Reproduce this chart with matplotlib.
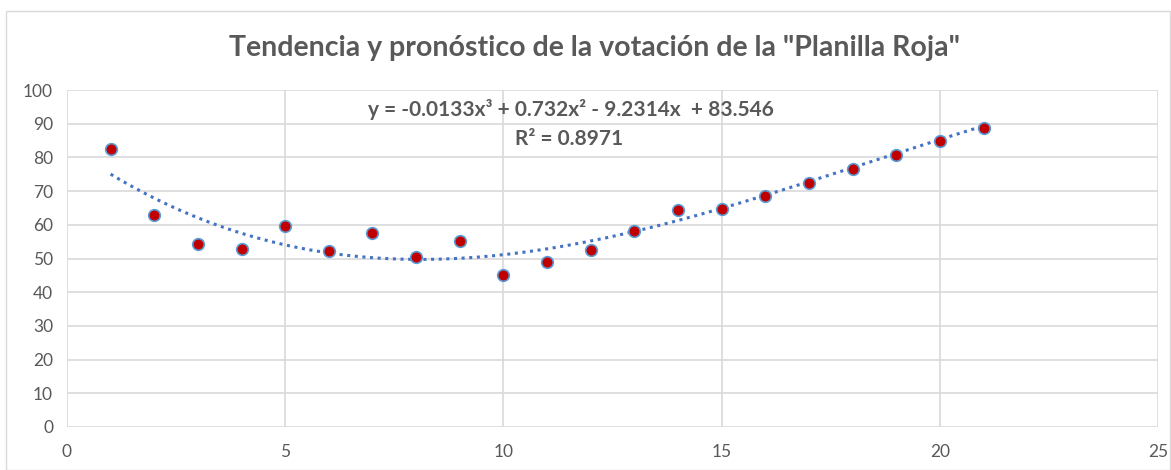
import matplotlib.pyplot as plt
import numpy as np

# ---------- DATA ----------
periodo = [1, 2, 3, 4, 5, 6, 7, 8, 9, 10, 11, 12, 13, 14, 15, 16, 17, 18, 19, 20, 21]
votacion = [82.5, 63.0, 54.3, 52.8, 59.5, 52.3, 57.6, 50.5, 55.2, 45.1, 49.0,
            52.4, 58.1, 64.3, 64.8, 68.6, 72.3, 76.7, 80.6, 85.0, 88.8]

# coefficients shown on the chart (cubic trend)
coef = [-0.0133, 0.732, -9.2314, 83.546]
ecuacion = "y = -0.0133x³ + 0.732x² - 9.2314x  + 83.546"
r2_texto = "R² = 0.8971"
titulo = 'Tendencia y pronóstico de la votación de la "Planilla Roja"'

x_ticks = [0, 5, 10, 15, 20, 25]
y_ticks = [0, 10, 20, 30, 40, 50, 60, 70, 80, 90, 100]

gris = "#595959"
plt.rcParams['font.family'] = ['Lato', 'DejaVu Sans']

# ---------- FIGURE ----------
fig = plt.figure(figsize=(11.71, 4.70), dpi=100)
ax = fig.add_axes([0.0572, 0.0915, 0.9318, 0.717])

# outer chart border
fig.patches.append(plt.Rectangle((0.005, 0.0), 0.994, 0.977, transform=fig.transFigure,
                                 fill=False, edgecolor="#d9d9d9", linewidth=1))

# trend line
xs = np.linspace(periodo[0], periodo[-1], 200)
ax.plot(xs, np.polyval(coef, xs), linestyle=(0, (1, 1.5)), color="#4472C4",
        linewidth=2.2, zorder=2)

# points
ax.scatter(periodo, votacion, s=70, color="#C00000", edgecolors="#5B9BD5",
           linewidths=1.2, zorder=3)

# axes
ax.set_xlim(0, 25)
ax.set_ylim(0, 100)
ax.set_xticks(x_ticks)
ax.set_yticks(y_ticks)
ax.grid(True, color="#d9d9d9", linewidth=1.2)
ax.set_axisbelow(True)
for s in ax.spines.values():
    s.set_visible(False)
ax.tick_params(length=0, labelsize=12.5, labelcolor=gris)
ax.tick_params(axis='x', pad=12)
ax.tick_params(axis='y', pad=10)

# labels
fig.text(0.508, 1 - 48 / 470, titulo, ha="center", va="center", fontsize=20.5,
         fontweight="bold", color=gris)
fig.text(571 / 1171, 1 - 109 / 470, ecuacion, ha="center", va="center",
         fontsize=15, fontweight="bold", color=gris)
fig.text(569 / 1171, 1 - 139 / 470, r2_texto, ha="center", va="center",
         fontsize=15, fontweight="bold", color=gris)

fig.savefig("out.png", dpi=100)
